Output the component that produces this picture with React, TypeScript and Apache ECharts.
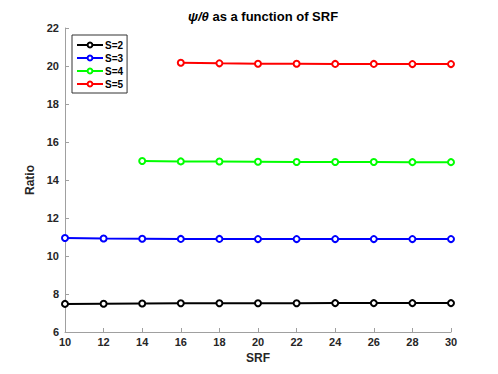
import React, { useEffect, useRef } from "react";
import * as echarts from "echarts";

const srf = [10, 12, 14, 16, 18, 20, 22, 24, 26, 28, 30];
const s2 = [7.48, 7.49, 7.5, 7.51, 7.51, 7.51, 7.51, 7.52, 7.52, 7.52, 7.52];
const s3 = [10.95, 10.92, 10.91, 10.9, 10.9, 10.89, 10.89, 10.89, 10.89, 10.89, 10.89];
const s4 = [null, null, 15.0, 14.98, 14.97, 14.96, 14.95, 14.95, 14.95, 14.94, 14.94];
const s5 = [null, null, null, 20.17, 20.14, 20.12, 20.12, 20.11, 20.11, 20.1, 20.1];
const seriesNames = ["S=2", "S=3", "S=4", "S=5"];
const seriesColors = ["#000000", "#0000ff", "#00ff00", "#ff0000"];
const seriesValues = [s2, s3, s4, s5];

const FONT = "Liberation Sans, Arial, sans-serif";

export default function App() {
  const ref = useRef<HTMLDivElement>(null);
  useEffect(() => {
    const chart = echarts.init(ref.current!, null, { renderer: "svg" });
    chart.setOption({
      animation: false,
      backgroundColor: "#ffffff",
      title: {
        text: "{i|ψ/θ} as a function of SRF",
        left: 258,
        textAlign: "center",
        top: 5,
        textStyle: {
          fontFamily: FONT,
          fontSize: 13,
          fontWeight: "bold",
          color: "#000",
          rich: {
            i: { fontFamily: FONT, fontSize: 13, fontWeight: "bold", fontStyle: "italic", color: "#000" },
          },
        },
      },
      legend: {
        left: 72,
        top: 35,
        orient: "vertical",
        itemGap: 1,
        itemWidth: 26,
        itemHeight: 6,
        padding: [4, 4, 3, 4],
        borderColor: "#333",
        borderWidth: 1,
        backgroundColor: "#fff",
        data: seriesNames,
        textStyle: { fontFamily: FONT, fontSize: 10, fontWeight: "bold", color: "#000", padding: [0, 0, 0, -3], lineHeight: 12 },
      },
      grid: { left: 65, right: 47, top: 28, bottom: 42, containLabel: false },
      xAxis: {
        type: "value",
        min: 10,
        max: 30,
        interval: 2,
        name: "SRF",
        nameLocation: "middle",
        nameGap: 17,
        nameTextStyle: { fontFamily: FONT, fontSize: 12, fontWeight: "bold", color: "#262626" },
        axisLine: { lineStyle: { color: "#a0a0a0", width: 1 } },
        axisTick: { inside: true, length: 4, lineStyle: { color: "#a0a0a0" } },
        axisLabel: { fontFamily: FONT, fontSize: 11, fontWeight: "bold", color: "#262626", margin: 4 },
        splitLine: { show: false },
      },
      yAxis: {
        type: "value",
        min: 6,
        max: 22,
        interval: 2,
        name: "Ratio",
        nameLocation: "middle",
        nameGap: 23,
        nameTextStyle: { fontFamily: FONT, fontSize: 12, fontWeight: "bold", color: "#262626" },
        axisLine: { show: true, lineStyle: { color: "#a0a0a0", width: 1 } },
        axisTick: { show: true, inside: true, length: 4, lineStyle: { color: "#a0a0a0" } },
        axisLabel: { fontFamily: FONT, fontSize: 11, fontWeight: "bold", color: "#262626", margin: 6 },
        splitLine: { show: false },
      },
      series: seriesValues.map((vals, i) => ({
        name: seriesNames[i],
        type: "line",
        data: srf.map((x, j) => (vals[j] === null ? [x, null] : [x, vals[j]])),
        color: seriesColors[i],
        lineStyle: { width: 2, color: seriesColors[i] },
        symbol: "circle",
        symbolSize: 6,
        showAllSymbol: true,
        itemStyle: { color: "#ffffff", borderColor: seriesColors[i], borderWidth: 2 },
        connectNulls: false,
      })),
    });
    return () => chart.dispose();
  }, []);
  return <div ref={ref} style={{ width: 498, height: 374, position: "absolute", left: 0, top: 0 }} />;
}
